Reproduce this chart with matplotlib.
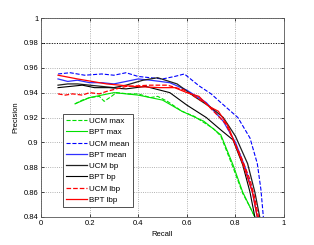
import numpy as np
import matplotlib
matplotlib.use('Agg')
import matplotlib.pyplot as plt

plt.rcParams['font.family'] = ['Liberation Sans', 'DejaVu Sans']

# 범례 라벨
labels = ['UCM max', 'BPT max', 'UCM mean', 'BPT mean',
          'UCM bp', 'BPT bp', 'UCM lbp', 'BPT lbp']

# precision-recall 곡선
ucm_max_r = [0.14, 0.17, 0.20, 0.24, 0.26, 0.29, 0.31, 0.36, 0.40, 0.45, 0.48, 0.52, 0.58, 0.63, 0.67, 0.71, 0.74, 0.79, 0.83, 0.86, 0.88]
ucm_max_p = [0.931, 0.934, 0.936, 0.937, 0.933, 0.937, 0.940, 0.939, 0.939, 0.936, 0.937, 0.933, 0.925, 0.921, 0.916, 0.911, 0.905, 0.880, 0.859, 0.848, 0.840]

bpt_max_r = [0.14, 0.20, 0.30, 0.40, 0.50, 0.58, 0.67, 0.74, 0.79, 0.83, 0.86, 0.88]
bpt_max_p = [0.931, 0.936, 0.940, 0.938, 0.934, 0.925, 0.917, 0.906, 0.882, 0.860, 0.848, 0.840]

ucm_mean_r = [0.07, 0.12, 0.18, 0.25, 0.30, 0.35, 0.40, 0.45, 0.50, 0.55, 0.59, 0.65, 0.70, 0.74, 0.81, 0.86, 0.89, 0.905, 0.915]
ucm_mean_p = [0.955, 0.956, 0.954, 0.955, 0.954, 0.956, 0.953, 0.952, 0.951, 0.953, 0.955, 0.9455, 0.939, 0.932, 0.920, 0.9035, 0.883, 0.862, 0.840]

bpt_mean_r = [0.07, 0.11, 0.15, 0.20, 0.25, 0.30, 0.35, 0.40, 0.45, 0.53, 0.60, 0.68, 0.75, 0.80, 0.84, 0.87, 0.89]
bpt_mean_p = [0.951, 0.949, 0.950, 0.948, 0.948, 0.947, 0.949, 0.951, 0.950, 0.948, 0.942, 0.932, 0.917, 0.900, 0.880, 0.860, 0.840]

ucm_bp_r = [0.07, 0.11, 0.15, 0.20, 0.25, 0.30, 0.35, 0.42, 0.48, 0.56, 0.63, 0.70, 0.75, 0.80, 0.85, 0.88, 0.90]
ucm_bp_p = [0.946, 0.947, 0.947, 0.946, 0.945, 0.944, 0.946, 0.950, 0.952, 0.947, 0.937, 0.928, 0.920, 0.905, 0.883, 0.860, 0.840]

bpt_bp_r = [0.07, 0.12, 0.17, 0.22, 0.28, 0.35, 0.43, 0.49, 0.53, 0.60, 0.68, 0.74, 0.79, 0.83, 0.86, 0.88]
bpt_bp_p = [0.944, 0.945, 0.946, 0.944, 0.944, 0.943, 0.945, 0.942, 0.940, 0.930, 0.920, 0.910, 0.902, 0.882, 0.860, 0.840]

ucm_lbp_r = [0.07, 0.10, 0.13, 0.17, 0.20, 0.24, 0.27, 0.31, 0.35, 0.45, 0.52, 0.59, 0.68, 0.76, 0.82, 0.86, 0.88, 0.895]
ucm_lbp_p = [0.939, 0.938, 0.939, 0.938, 0.940, 0.939, 0.941, 0.943, 0.945, 0.946, 0.946, 0.942, 0.931, 0.915, 0.890, 0.870, 0.855, 0.840]

bpt_lbp_r = [0.07, 0.15, 0.27, 0.38, 0.49, 0.55, 0.60, 0.65, 0.69, 0.73, 0.77, 0.83, 0.87, 0.89]
bpt_lbp_p = [0.954, 0.951, 0.947, 0.945, 0.944, 0.944, 0.940, 0.937, 0.929, 0.925, 0.913, 0.883, 0.860, 0.840]

series = [(ucm_max_r, ucm_max_p), (bpt_max_r, bpt_max_p),
          (ucm_mean_r, ucm_mean_p), (bpt_mean_r, bpt_mean_p),
          (ucm_bp_r, ucm_bp_p), (bpt_bp_r, bpt_bp_p),
          (ucm_lbp_r, ucm_lbp_p), (bpt_lbp_r, bpt_lbp_p)]

styles = [('#00e000', '--', 0.8), ('#00e000', '-', 0.8),
          ('#0000ff', '--', 0.8), ('#3030ff', '-', 0.9),
          ('#202020', '-', 0.9), ('#000000', '-', 0.8),
          ('#ff0000', '--', 0.9), ('#ff0000', '-', 0.9)]

fig = plt.figure(figsize=(3.14, 2.45), dpi=100)
ax = fig.add_axes([0.1306, 0.1143, 0.7739, 0.8122])

for (r, p), lab, (c, ls, lw) in zip(series, labels, styles):
    ax.plot(r, p, color=c, linestyle=ls, linewidth=lw, label=lab)

ax.set_xlim(0, 1)
ax.set_ylim(0.84, 1)
ax.set_xticks([0, 0.2, 0.4, 0.6, 0.8, 1])
ax.set_xticklabels(['0', '0.2', '0.4', '0.6', '0.8', '1'])
ax.set_yticks([0.84, 0.86, 0.88, 0.9, 0.92, 0.94, 0.96, 0.98, 1])
ax.set_yticklabels(['0.84', '0.86', '0.88', '0.9', '0.92', '0.94', '0.96', '0.98', '1'])
ax.tick_params(direction='in', labelsize=5.5, length=2, width=0.5, top=True, right=True, pad=2)
ax.grid(True, linestyle=':', color='#999999', linewidth=0.6)
ax.axhline(0.98, linestyle=':', color='black', linewidth=0.7)
for s in ax.spines.values():
    s.set_linewidth(0.6)
    s.set_color('#555555')

ax.set_xlabel('Recall', fontsize=5.5, labelpad=3)
ax.set_ylabel('Precision', fontsize=5.5, labelpad=3)

leg = ax.legend(loc='lower left', bbox_to_anchor=(0.09, 0.05), fontsize=5.8,
                fancybox=False, framealpha=1, edgecolor='#333333',
                handlelength=2.6, handletextpad=0.3, labelspacing=0.45,
                borderpad=0.4, borderaxespad=0)
leg.get_frame().set_linewidth(0.6)

plt.savefig('out.png', dpi=100)
